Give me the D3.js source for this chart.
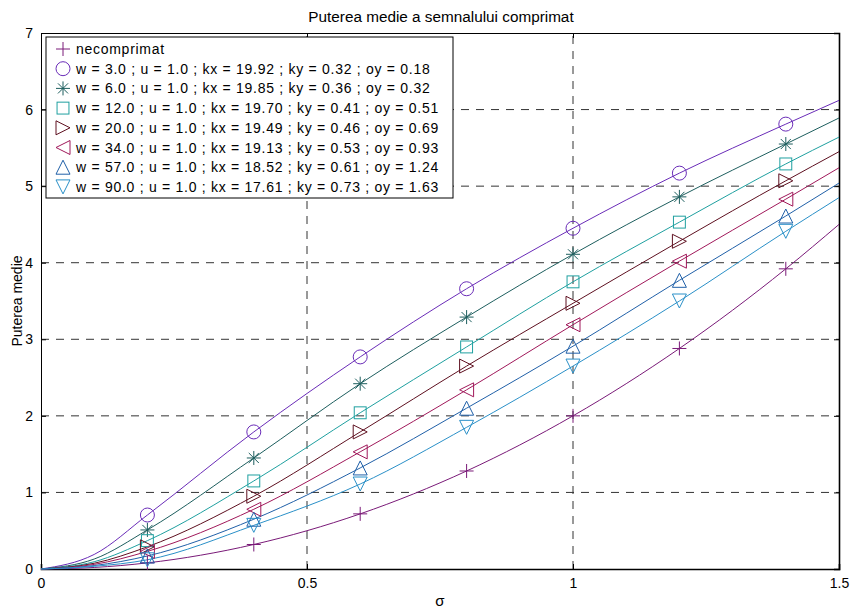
<!DOCTYPE html>
<html><head><meta charset="utf-8">
<script src="https://cdn.jsdelivr.net/npm/d3@7"></script>
<style>body{margin:0;background:#fff}svg{display:block;font-family:"Liberation Sans",Arial,sans-serif}</style>
</head><body><div id="c"></div>
<script>
// Data
const sigmaMarkers = [0.2, 0.4, 0.6, 0.8, 1.0, 1.2, 1.4];
const sigmaLine = [0, 0.1, 0.2, 0.4, 0.6, 0.8, 1.0, 1.2, 1.4, 1.5];
const labels = [
  "necomprimat",
  "w = 3.0 ; u = 1.0 ; kx = 19.92 ; ky = 0.32 ; oy = 0.18",
  "w = 6.0 ; u = 1.0 ; kx = 19.85 ; ky = 0.36 ; oy = 0.32",
  "w = 12.0 ; u = 1.0 ; kx = 19.70 ; ky = 0.41 ; oy = 0.51",
  "w = 20.0 ; u = 1.0 ; kx = 19.49 ; ky = 0.46 ; oy = 0.69",
  "w = 34.0 ; u = 1.0 ; kx = 19.13 ; ky = 0.53 ; oy = 0.93",
  "w = 57.0 ; u = 1.0 ; kx = 18.52 ; ky = 0.61 ; oy = 1.24",
  "w = 90.0 ; u = 1.0 ; kx = 17.61 ; ky = 0.73 ; oy = 1.63"
];
const markers = ["plus", "circle", "asterisk", "square", "triRight", "triLeft", "triUp", "triDown"];
const colors = ["#7a1a78", "#6a2cb8", "#1d5e5e", "#1fa0a0", "#5e1020", "#a0185a", "#2060a8", "#2a90c8"];
// curve values at sigmaLine
const lineNecomp = [0, 0.02, 0.08, 0.32, 0.72, 1.28, 2.0, 2.88, 3.92, 4.5];
const lineW3  = [0, 0.19, 0.705, 1.79, 2.77, 3.66, 4.45, 5.17, 5.81, 6.12];
const lineW6  = [0, 0.13, 0.51, 1.45, 2.42, 3.29, 4.11, 4.86, 5.55, 5.89];
const lineW12 = [0, 0.095, 0.37, 1.15, 2.04, 2.90, 3.75, 4.53, 5.29, 5.64];
const lineW20 = [0, 0.075, 0.29, 0.95, 1.79, 2.65, 3.47, 4.28, 5.07, 5.45];
const lineW34 = [0, 0.06, 0.23, 0.78, 1.53, 2.34, 3.19, 4.02, 4.83, 5.24];
const lineW57 = [0, 0.045, 0.17, 0.65, 1.32, 2.10, 2.91, 3.77, 4.61, 5.04];
const lineW90 = [0, 0.035, 0.12, 0.57, 1.11, 1.85, 2.65, 3.50, 4.41, 4.85];
// marker values at sigmaMarkers
const markNecomp = [0.08, 0.32, 0.72, 1.28, 2.0, 2.88, 3.92];
const markW3  = [0.705, 1.79, 2.77, 3.66, 4.45, 5.17, 5.81];
const markW6  = [0.51, 1.45, 2.42, 3.29, 4.11, 4.86, 5.55];
const markW12 = [0.37, 1.15, 2.04, 2.90, 3.75, 4.53, 5.29];
const markW20 = [0.29, 0.95, 1.79, 2.65, 3.47, 4.28, 5.07];
const markW34 = [0.23, 0.78, 1.53, 2.34, 3.19, 4.02, 4.83];
const markW57 = [0.17, 0.65, 1.32, 2.10, 2.91, 3.77, 4.61];
const markW90 = [0.12, 0.57, 1.11, 1.85, 2.65, 3.50, 4.41];
const xTicks = [0, 0.5, 1, 1.5];
const yTicks = [0, 1, 2, 3, 4, 5, 6, 7];
const title = "Puterea medie a semnalului comprimat";
const xLabel = "σ";
const yLabel = "Puterea medie";

const lines = [lineNecomp, lineW3, lineW6, lineW12, lineW20, lineW34, lineW57, lineW90];
const marks = [markNecomp, markW3, markW6, markW12, markW20, markW34, markW57, markW90];

const W = 853, H = 610;
const m = {l: 41, r: 14, t: 33, b: 41};
const svg = d3.select("#c").append("svg").attr("width", W).attr("height", H);
const x = d3.scaleLinear().domain([0, 1.5]).range([m.l, W - m.r]);
const y = d3.scaleLinear().domain([0, 7]).range([H - m.b, m.t]);
const fs = 14;

// grid
const g = svg.append("g");
xTicks.slice(1, -1).forEach(t => g.append("line").attr("x1", x(t)).attr("x2", x(t)).attr("y1", y(0)).attr("y2", y(7))
  .attr("stroke", "#333").attr("stroke-dasharray", "8,7").attr("stroke-width", 1));
yTicks.slice(1, -1).forEach(t => g.append("line").attr("x1", x(0)).attr("x2", x(1.5)).attr("y1", y(t)).attr("y2", y(t))
  .attr("stroke", "#333").attr("stroke-dasharray", "8,7").attr("stroke-width", 1));

// axes
const xa = svg.append("g").attr("transform", `translate(0,${y(0)})`)
  .call(d3.axisBottom(x).tickValues(xTicks).tickSize(-5).tickPadding(9).tickFormat(d3.format("")));
const xa2 = svg.append("g").attr("transform", `translate(0,${y(7)})`)
  .call(d3.axisTop(x).tickValues(xTicks).tickSize(-5).tickFormat(""));
const ya = svg.append("g").attr("transform", `translate(${x(0)},0)`)
  .call(d3.axisLeft(y).tickValues(yTicks).tickSize(-5).tickPadding(8).tickFormat(d3.format("")));
const ya2 = svg.append("g").attr("transform", `translate(${x(1.5)},0)`)
  .call(d3.axisRight(y).tickValues(yTicks).tickSize(-5).tickFormat(""));
[xa, xa2, ya, ya2].forEach(a => {
  a.selectAll("path").attr("stroke", "#000").attr("stroke-width", 1);
  a.selectAll("line").attr("stroke", "#000");
  a.selectAll("text").attr("font-size", fs).attr("fill", "#000").attr("font-family", "Liberation Sans, Arial, sans-serif");
});
xa.select("path").attr("stroke-width", 1.6);
ya2.select("path").attr("stroke-width", 1.6);

// markers
function drawMarker(sel, type, cx, cy, col, s) {
  const h = s / 2;
  const st = {fill: "none", stroke: col, "stroke-width": 1};
  let el;
  const P = pts => sel.append("polygon").attr("points", pts.map(p => p.join(",")).join(" "));
  switch (type) {
    case "plus":
      el = sel.append("path").attr("d", `M${cx-h},${cy}H${cx+h}M${cx},${cy-h}V${cy+h}`); break;
    case "circle":
      el = sel.append("circle").attr("cx", cx).attr("cy", cy).attr("r", h); break;
    case "asterisk": {
      const d = h * 0.72;
      el = sel.append("path").attr("d", `M${cx-h},${cy}H${cx+h}M${cx},${cy-h}V${cy+h}M${cx-d},${cy-d}L${cx+d},${cy+d}M${cx-d},${cy+d}L${cx+d},${cy-d}`); break;
    }
    case "square": {
      const q = h * 0.85;
      el = sel.append("rect").attr("x", cx - q).attr("y", cy - q).attr("width", 2 * q).attr("height", 2 * q); break;
    }
    case "triRight": el = P([[cx - h, cy - h], [cx + h, cy], [cx - h, cy + h]]); break;
    case "triLeft": el = P([[cx + h, cy - h], [cx - h, cy], [cx + h, cy + h]]); break;
    case "triUp": el = P([[cx, cy - h], [cx + h, cy + h], [cx - h, cy + h]]); break;
    case "triDown": el = P([[cx, cy + h], [cx + h, cy - h], [cx - h, cy - h]]); break;
  }
  Object.entries(st).forEach(([k, v]) => el.attr(k, v));
}

const lineGen = d3.line().x(d => x(d[0])).y(d => y(d[1])).curve(d3.curveMonotoneX);
const plot = svg.append("g");
lines.forEach((vals, i) => {
  plot.append("path").attr("d", lineGen(sigmaLine.map((s, k) => [s, vals[k]])))
    .attr("fill", "none").attr("stroke", colors[i]).attr("stroke-width", 1);
});
marks.forEach((vals, i) => {
  sigmaMarkers.forEach((s, k) => drawMarker(plot, markers[i], x(s), y(vals[k]), colors[i], 14));
});

// legend
const lg = svg.append("g");
const lx = 46, ly = 37, lw = 407, lh = 161, rowH = 19.7;
lg.append("rect").attr("x", lx).attr("y", ly).attr("width", lw).attr("height", lh)
  .attr("fill", "#fff").attr("stroke", "#000").attr("stroke-width", 1);
labels.forEach((lab, i) => {
  const cy = ly + 12 + i * rowH;
  drawMarker(lg, markers[i], 63, cy, colors[i], 14);
  lg.append("text").attr("x", 76).attr("y", cy + 5).attr("font-size", 14)
    .attr("letter-spacing", 0.72).attr("fill", "#000").text(lab);
});

// titles
svg.append("text").attr("x", 441).attr("y", 22).attr("text-anchor", "middle").attr("font-size", 15.3).text(title);
svg.append("text").attr("x", (x(0) + x(1.5)) / 2).attr("y", 606).attr("text-anchor", "middle").attr("font-size", 15).text(xLabel);
svg.append("text").attr("transform", `translate(22,${(y(0) + y(7)) / 2}) rotate(-90)`).attr("text-anchor", "middle").attr("font-size", 14).text(yLabel);
</script></body></html>
